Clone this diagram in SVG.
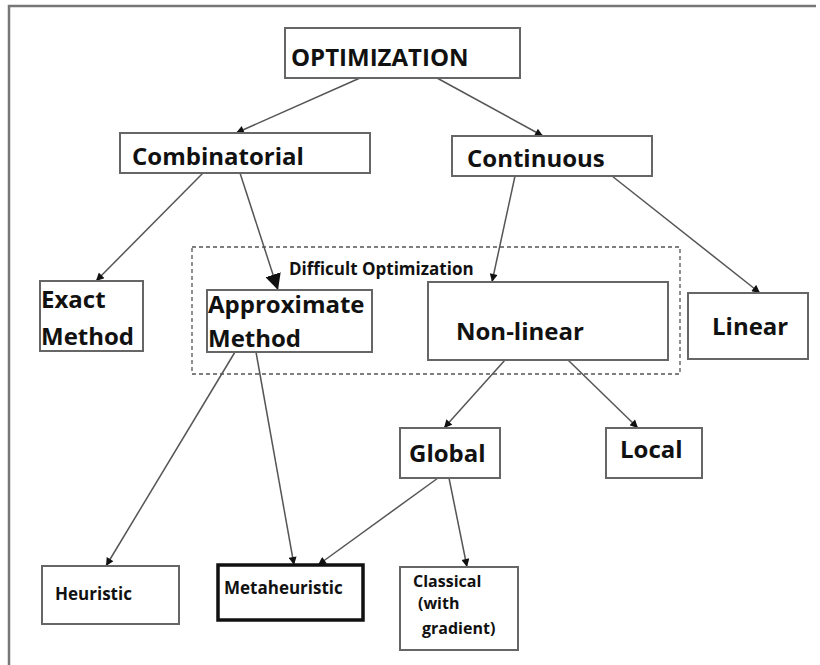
<svg xmlns="http://www.w3.org/2000/svg" width="820" height="665" viewBox="0 0 820 665">
  <defs>
    <marker id="arr" viewBox="0 0 10 10" refX="10" refY="5" markerWidth="9" markerHeight="8" markerUnits="userSpaceOnUse" orient="auto">
      <path d="M0,0 L10,5 L0,10 z" fill="#111"/>
    </marker>
    <marker id="arrBig" viewBox="0 0 10 10" refX="10" refY="5" markerWidth="16" markerHeight="16" markerUnits="userSpaceOnUse" orient="auto">
      <path d="M0,0 L10,5 L0,10 z" fill="#111"/>
    </marker>
    <style>
      .box { fill: #fff; stroke: #666; stroke-width: 2; }
      .bold { stroke: #111; stroke-width: 3.5; }
      .lbl { font-family: "Open Sans", "Liberation Sans", sans-serif; font-weight: bold; fill: #111; }
      .big { font-size: 24px; }
      .small { font-size: 17px; }
      .tiny { font-size: 16px; }
      .edge { stroke: #555; stroke-width: 1.5; fill: none; marker-end: url(#arr); }
    </style>
  </defs>

  <rect width="820" height="665" fill="#fff"/>
  <!-- outer frame -->
  <path d="M9,665 V6 H816" fill="none" stroke="#777" stroke-width="2.5"/>

  <!-- region of difficult optimization -->
  <g id="difficult">
    <rect x="192" y="247" width="488" height="127" fill="none" stroke="#555" stroke-width="1.3" stroke-dasharray="4,3"/>
    <text class="lbl small" x="289" y="275">Difficult Optimization</text>
  </g>

  <g id="connectors">
    <line class="edge" x1="360" y1="78" x2="236" y2="133"/>
    <line class="edge" x1="437" y1="78" x2="543" y2="136"/>
    <line class="edge" x1="203" y1="173" x2="96" y2="281"/>
    <line class="edge" x1="240" y1="173" x2="278" y2="290" style="marker-end:url(#arrBig)"/>
    <line class="edge" x1="515" y1="176" x2="492" y2="282"/>
    <line class="edge" x1="612" y1="176" x2="760" y2="293"/>
    <line class="edge" x1="505" y1="360" x2="444" y2="428"/>
    <line class="edge" x1="568" y1="360" x2="638" y2="428"/>
    <line class="edge" x1="235" y1="352" x2="106" y2="566"/>
    <line class="edge" x1="256" y1="352" x2="294" y2="565"/>
    <line class="edge" x1="438" y1="478" x2="318" y2="565"/>
    <line class="edge" x1="449" y1="478" x2="467" y2="567"/>
  </g>

  <g id="optimization">
    <rect class="box" x="285" y="28" width="235" height="50"/>
    <text class="lbl big" x="291" y="66">OPTIMIZATION</text>
  </g>
  <g id="combinatorial">
    <rect class="box" x="120" y="133" width="250" height="40"/>
    <text class="lbl big" x="132" y="165">Combinatorial</text>
  </g>
  <g id="continuous">
    <rect class="box" x="452" y="136" width="200" height="40"/>
    <text class="lbl big" x="467" y="167">Continuous</text>
  </g>
  <g id="exact">
    <rect class="box" x="40" y="281" width="103" height="70"/>
    <text class="lbl big" x="41" y="308">Exact</text>
    <text class="lbl big" x="41" y="345">Method</text>
  </g>
  <g id="approximate">
    <rect class="box" x="207" y="290" width="165" height="62"/>
    <text class="lbl big" x="208" y="313">Approximate</text>
    <text class="lbl big" x="208" y="347">Method</text>
  </g>
  <g id="nonlinear">
    <rect class="box" x="428" y="282" width="240" height="78"/>
    <text class="lbl big" x="456" y="340">Non-linear</text>
  </g>
  <g id="linear">
    <rect class="box" x="688" y="293" width="120" height="66"/>
    <text class="lbl big" x="712" y="335">Linear</text>
  </g>
  <g id="global">
    <rect class="box" x="400" y="428" width="100" height="50"/>
    <text class="lbl big" x="409" y="462">Global</text>
  </g>
  <g id="local">
    <rect class="box" x="606" y="428" width="96" height="50"/>
    <text class="lbl big" x="620" y="458">Local</text>
  </g>
  <g id="heuristic">
    <rect class="box" x="42" y="566" width="137" height="58"/>
    <text class="lbl small" x="55" y="600">Heuristic</text>
  </g>
  <g id="metaheuristic">
    <rect class="box bold" x="218" y="565" width="145" height="55"/>
    <text class="lbl small" x="224" y="594">Metaheuristic</text>
  </g>
  <g id="classical">
    <rect class="box" x="400" y="567" width="118" height="83"/>
    <text class="lbl tiny" x="413" y="587">Classical</text>
    <text class="lbl tiny" x="418" y="609">(with</text>
    <text class="lbl tiny" x="422" y="634">gradient)</text>
  </g>
</svg>
